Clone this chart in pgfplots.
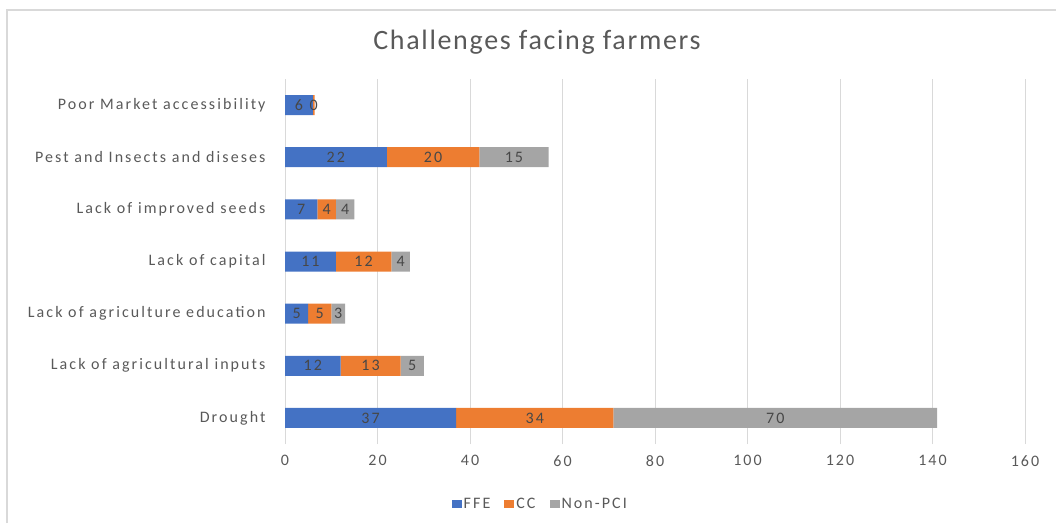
\documentclass[border=0pt]{standalone}
\usepackage{pgfplots}
\pgfplotsset{compat=1.18}
\usepackage{fontspec}
\setmainfont{Carlito}
\newfontfamily\spaced[LetterSpace=13]{Carlito}
\newfontfamily\titlefont[LetterSpace=6]{Carlito}
\definecolor{ffe}{HTML}{4472C4}
\definecolor{cc}{HTML}{ED7D31}
\definecolor{npc}{HTML}{A5A5A5}
\definecolor{txt}{HTML}{595959}
\definecolor{grd}{HTML}{D9D9D9}
\begin{document}
\begin{tikzpicture}[x=1pt,y=1pt]
\useasboundingbox (0,0) rectangle (1056,523);
% chart-area frame (top and left edges)
\draw[grd,line width=1.2pt] (7,0) -- (7,513) -- (1056,513);
\node[text=txt,font=\titlefont\fontsize{28}{32}\selectfont] at (537,481) {Challenges facing farmers};
\begin{axis}[
  at={(285pt,79pt)}, anchor=south west,
  scale only axis, width=740pt, height=365pt,
  xbar stacked, bar width=20pt,
  xmin=0, xmax=160, ymin=-0.5, ymax=6.5,
  xtick={0,20,...,160},
  ytick={0,...,6},
  yticklabels={Drought,Lack of agricultural inputs,Lack of agriculture education,Lack of capital,Lack of improved seeds,Pest and Insects and diseses,Poor Market accessibility},
  xmajorgrids, major grid style={grd,line width=0.8pt},
  axis line style={draw=none},
  axis y line*=left,
  separate axis lines,
  y axis line style={draw=grd,line width=0.8pt},
  tick style={draw=none},
  ticklabel style={text=txt,font=\spaced\fontsize{16}{18}\selectfont},
  /pgf/number format/assume math mode=true,
  xticklabel style={yshift=-8pt},
  yticklabel style={xshift=-16pt},
  nodes near coords={\pgfmathprintnumber[fixed,precision=0]{\pgfplotspointmeta}},
  every node near coord/.append style={text=black!72,font=\spaced\fontsize{16}{18}\selectfont},
  legend style={at={(0.345,-0.165)},anchor=center,draw=none,legend columns=-1,
     font=\spaced\fontsize{16}{18}\selectfont,text=txt,
     /tikz/every even column/.append style={column sep=12pt}},
  legend image code/.code={\fill[#1] (0pt,-4pt) rectangle (10pt,4pt);},
]
\addplot[fill=ffe,draw=none] coordinates {(37,0) (12,1) (5,2) (11,3) (7,4) (22,5) (6,6)};
\addplot[fill=cc,draw=none] coordinates {(34,0) (13,1) (5,2) (12,3) (4,4) (20,5) (0.4,6)};
\addplot[fill=npc,draw=none] coordinates {(70,0) (5,1) (3,2) (4,3) (4,4) (15,5)};
\legend{FFE,CC,Non-PCI}
\end{axis}
\end{tikzpicture}
\end{document}
